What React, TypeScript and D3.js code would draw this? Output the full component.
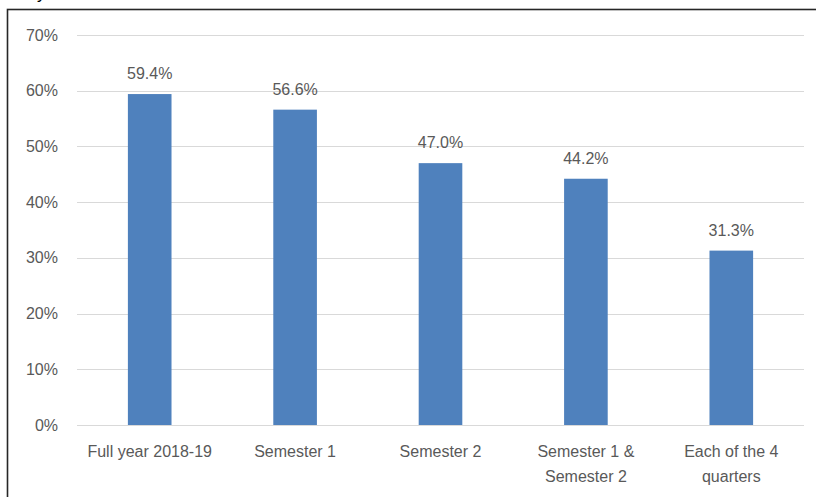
import React, { useEffect, useRef } from 'react';
import * as d3 from 'd3';

const categories = ['Full year 2018-19', 'Semester 1', 'Semester 2', 'Semester 1 & Semester 2', 'Each of the 4 quarters'];
const categoryLines = [['Full year 2018-19'], ['Semester 1'], ['Semester 2'], ['Semester 1 &', 'Semester 2'], ['Each of the 4', 'quarters']];
const values = [59.4, 56.6, 47.0, 44.2, 31.3];
const yTicks = [0, 10, 20, 30, 40, 50, 60, 70];

const App: React.FC = () => {
    const ref = useRef<SVGSVGElement | null>(null);

    useEffect(() => {
        const svg = d3.select(ref.current);
        svg.selectAll('*').remove();

        const W = 816;
        const H = 497;
        const margin = { top: 35, right: 12, bottom: 72, left: 77 };
        const font = '"Liberation Sans", Arial, sans-serif';
        const textColor = '#595959';
        const fs = 16;

        // outer frame, cut off at the right and bottom
        svg.append('rect')
            .attr('x', 7.5).attr('y', 9.5)
            .attr('width', W + 20).attr('height', H + 20)
            .attr('fill', 'white')
            .attr('stroke', '#262626')
            .attr('stroke-width', 1.6);

        // leftover descender from a title above the crop
        svg.append('text')
            .attr('x', 37).attr('y', -1)
            .attr('font-family', font).attr('font-size', 17)
            .attr('fill', '#000')
            .text('y');

        const x = d3.scaleBand()
            .domain(categories)
            .range([margin.left, W - margin.right])
            .paddingInner(0.7)
            .paddingOuter(0.35);

        const y = d3.scaleLinear()
            .domain([0, 70])
            .range([H - margin.bottom, margin.top]);

        // gridlines
        svg.append('g')
            .selectAll('line')
            .data(yTicks)
            .join('line')
            .attr('x1', margin.left)
            .attr('x2', W - margin.right)
            .attr('y1', d => Math.round(y(d)) + 0.5)
            .attr('y2', d => Math.round(y(d)) + 0.5)
            .attr('stroke', '#d9d9d9')
            .attr('stroke-width', 1.2);

        // y tick labels
        svg.append('g')
            .selectAll('text')
            .data(yTicks)
            .join('text')
            .attr('x', 58)
            .attr('y', d => y(d))
            .attr('dy', '0.35em')
            .attr('text-anchor', 'end')
            .attr('font-family', font)
            .attr('font-size', fs)
            .attr('fill', textColor)
            .text(d => `${d}%`);

        // bars
        svg.append('g')
            .selectAll('rect')
            .data(values)
            .join('rect')
            .attr('x', (d, i) => x(categories[i]) as number)
            .attr('y', d => y(d))
            .attr('width', x.bandwidth())
            .attr('height', d => y(0) - y(d))
            .attr('fill', '#4f81bd');

        // value labels
        svg.append('g')
            .selectAll('text')
            .data(values)
            .join('text')
            .attr('x', (d, i) => (x(categories[i]) as number) + x.bandwidth() / 2)
            .attr('y', d => y(d) - 15)
            .attr('text-anchor', 'middle')
            .attr('font-family', font)
            .attr('font-size', fs)
            .attr('fill', textColor)
            .text(d => `${d.toFixed(1)}%`);

        // category labels
        const cat = svg.append('g')
            .selectAll('text')
            .data(categoryLines)
            .join('text')
            .attr('x', (d, i) => (x(categories[i]) as number) + x.bandwidth() / 2)
            .attr('y', y(0) + 32)
            .attr('text-anchor', 'middle')
            .attr('font-family', font)
            .attr('font-size', fs)
            .attr('fill', textColor);

        cat.selectAll('tspan')
            .data(d => d)
            .join('tspan')
            .attr('x', function () {
                return (this.parentNode as SVGTextElement).getAttribute('x');
            })
            .attr('dy', (d, i) => (i === 0 ? 0 : 25))
            .text(d => d);
    }, []);

    return (
        <svg
            ref={ref}
            width={816}
            height={497}
            style={{ position: 'absolute', left: 0, top: 0, background: 'white' }}
        ></svg>
    );
};

export default App;
